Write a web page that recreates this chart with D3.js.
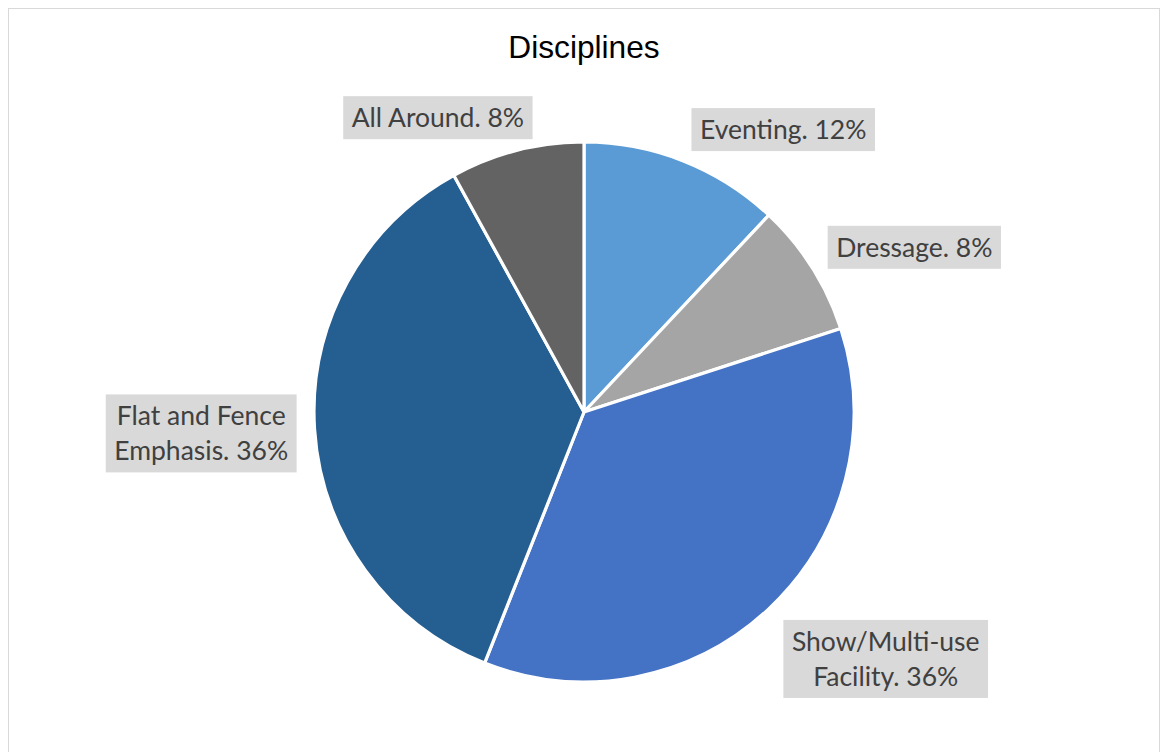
<!DOCTYPE html>
<html>
<head>
<meta charset="utf-8">
<script src="https://cdn.jsdelivr.net/npm/d3@7"></script>
<style>
  html, body { margin: 0; padding: 0; background: #fff; }
  svg { display: block; }
</style>
</head>
<body>
<svg id="chart" width="1165" height="752"></svg>
<script>
// Share of facilities by discipline (percent)
const categories = ["Eventing", "Dressage", "Show/Multi-use Facility", "Flat and Fence Emphasis", "All Around"];
const values = [12, 8, 36, 36, 8];
const colors = ["#5B9BD5", "#A5A5A5", "#4472C4", "#255E91", "#636363"];
// Line breaks used in the data labels
const labelLines = [
  ["Eventing. 12%"],
  ["Dressage. 8%"],
  ["Show/Multi-use", "Facility. 36%"],
  ["Flat and Fence", "Emphasis. 36%"],
  ["All Around. 8%"]
];
const chartTitle = "Disciplines";

// Label placement: angular nudge (degrees) from slice middle, distance as a multiple of the radius
const labelPlacement = [
  { dAngle: 13.6, k: 1.28 },
  { dAngle: 5.9, k: 1.367 },
  { dAngle: -7.5, k: 1.444 },
  { dAngle: 0.4, k: 1.42 },
  { dAngle: -12, k: 1.217 }
];

const W = 1165, H = 752;
const cx = 584, cy = 412, R = 270;
const svg = d3.select("#chart");

// chart area border
svg.append("rect")
  .attr("x", 8.5).attr("y", 8.5)
  .attr("width", 1151).attr("height", 760)
  .attr("fill", "#fff").attr("stroke", "#d9d9d9").attr("stroke-width", 1);

svg.append("text")
  .attr("x", cx).attr("y", 58)
  .attr("text-anchor", "middle")
  .attr("font-family", "'Liberation Sans', Arial, sans-serif")
  .attr("font-size", 31.7)
  .attr("fill", "#000")
  .text(chartTitle);

const data = categories.map((c, i) => ({ name: c, value: values[i], color: colors[i], lines: labelLines[i], place: labelPlacement[i] }));

const pie = d3.pie().value(d => d.value).sort(null);
const arc = d3.arc().innerRadius(0).outerRadius(R);
const arcs = pie(data);

const g = svg.append("g").attr("transform", `translate(${cx},${cy})`);

g.selectAll("path.slice")
  .data(arcs)
  .join("path")
  .attr("class", "slice")
  .attr("d", arc)
  .attr("fill", d => d.data.color)
  .attr("stroke", "#fff")
  .attr("stroke-width", 3.2)
  .attr("stroke-linejoin", "round");

// data labels with grey callout boxes
const fontSize = 26.5, lineH = 35;
const labels = g.selectAll("g.label")
  .data(arcs)
  .join("g")
  .attr("class", "label")
  .attr("transform", d => {
    const a = (d.startAngle + d.endAngle) / 2 + d.data.place.dAngle * Math.PI / 180;
    const r = R * d.data.place.k;
    return `translate(${r * Math.sin(a)},${-r * Math.cos(a)})`;
  });

labels.each(function(d) {
  const sel = d3.select(this);
  const n = d.data.lines.length;
  const box = sel.append("rect").attr("fill", "#d9d9d9");
  const txt = sel.append("text")
    .attr("text-anchor", "middle")
    .attr("font-family", "Lato, 'Open Sans', sans-serif")
    .attr("font-size", fontSize)
    .attr("fill", "#404040");
  d.data.lines.forEach((line, j) => {
    txt.append("tspan")
      .attr("x", 0)
      .attr("y", (j - (n - 1) / 2) * lineH)
      .attr("dy", "0.36em")
      .text(line);
  });
  let w = 0;
  txt.selectAll("tspan").each(function() { w = Math.max(w, this.getComputedTextLength()); });
  const bw = w + 17, bh = n * lineH + 8;
  box.attr("x", -bw / 2).attr("y", -bh / 2).attr("width", bw).attr("height", bh);
});
</script>
</body>
</html>
